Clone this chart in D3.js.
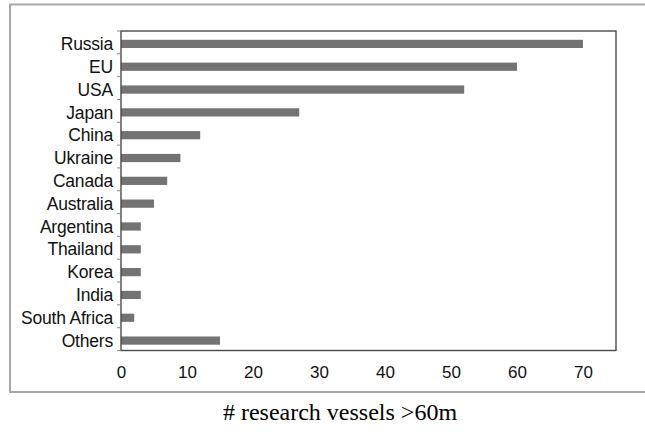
<!DOCTYPE html>
<html><head><meta charset="utf-8">
<script src="https://cdn.jsdelivr.net/npm/d3@7"></script>
<style>body{margin:0;background:#fff}svg{display:block}</style>
</head><body>
<svg id="c" width="645" height="432"></svg>
<script>
const categories = ["Russia","EU","USA","Japan","China","Ukraine","Canada","Australia","Argentina","Thailand","Korea","India","South Africa","Others"];
const values = [70,60,52,27,12,9,7,5,3,3,3,3,2,15];
const xTicks = [0,10,20,30,40,50,60,70];
const xTitle = "# research vessels >60m";

const svg = d3.select("#c");
const m = {l:121, r:616, t:31, b:350.5};
const x = d3.scaleLinear().domain([0,75]).range([m.l, m.r]);
const y = d3.scaleBand().domain(categories).range([m.t, m.b]).paddingInner(0.64).paddingOuter(0.32);

const defs = svg.append("defs");
const f = defs.append("filter").attr("id","blur").attr("x","-5%").attr("y","-50%").attr("width","110%").attr("height","200%");
f.append("feGaussianBlur").attr("stdDeviation","0.6");

// outer frame
svg.append("rect").attr("x",10).attr("y",4.5).attr("width",660).attr("height",387.5)
  .attr("fill","none").attr("stroke","#a8a8a8").attr("stroke-width",2);

// bars
svg.append("g").selectAll("rect").data(categories).join("rect")
  .attr("x", x(0)).attr("y", d => y(d) + 1.5)
  .attr("width", (d,i) => x(values[i]) - x(0))
  .attr("height", y.bandwidth())
  .attr("fill","#737373").attr("filter","url(#blur)");

// plot box
svg.append("rect").attr("x",m.l).attr("y",m.t).attr("width",m.r-m.l).attr("height",m.b-m.t)
  .attr("fill","none").attr("stroke","#4a4a4a").attr("stroke-width",1.4);

// y axis ticks at category boundaries
const yb = d3.scaleLinear().domain([0,categories.length]).range([m.t,m.b]);
svg.append("g").selectAll("line").data(d3.range(categories.length+1)).join("line")
  .attr("x1", m.l-4).attr("x2", m.l).attr("y1", d=>yb(d)).attr("y2", d=>yb(d))
  .attr("stroke","#888").attr("stroke-width",1);
svg.append("g").selectAll("text").data(categories).join("text")
  .attr("x", 113).attr("y", d => y(d) + y.bandwidth()/2 + 1.5)
  .attr("dy","0.35em").attr("text-anchor","end")
  .attr("font-family","Liberation Sans, Arial, sans-serif").attr("font-size",17.5)
  .attr("letter-spacing","-0.2").attr("fill","#111").text(d=>d);

// x axis labels
const xAxis = d3.axisBottom(x).tickValues(xTicks).tickSize(0).tickPadding(15);
const gx = svg.append("g").attr("transform",`translate(0,${m.b})`).call(xAxis);
gx.select(".domain").remove();
gx.selectAll("text").attr("font-family","Liberation Sans, Arial, sans-serif").attr("font-size",17).attr("fill","#111");

// title
svg.append("text").attr("x",340).attr("y",420).attr("text-anchor","middle")
  .attr("font-family","Liberation Serif, Times New Roman, serif").attr("font-size",24)
  .attr("fill","#000").text(xTitle);
</script>
</body></html>
